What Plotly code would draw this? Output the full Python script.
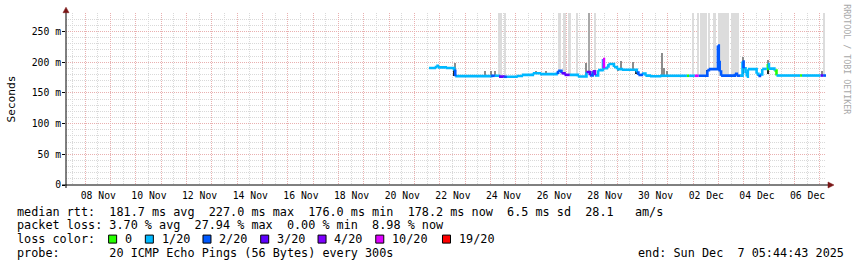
import pandas as pd
import plotly.graph_objects as go

# ---------------- data ----------------
# median RTT (ms) as a step series, with number of lost pings (of 20)
med_time = [
    "2025-11-21 13:40", "2025-11-21 19:00", "2025-11-21 20:30", "2025-11-21 22:00",
    "2025-11-22 05:30", "2025-11-22 13:30", "2025-11-22 14:30", "2025-11-24 00:30",
    "2025-11-24 04:00", "2025-11-24 08:00", "2025-11-24 12:00", "2025-11-24 15:30",
    "2025-11-25 00:30", "2025-11-25 05:30", "2025-11-25 16:00", "2025-11-25 22:45",
    "2025-11-26 14:30", "2025-11-26 16:00", "2025-11-26 19:10", "2025-11-26 22:00",
    "2025-11-27 03:00", "2025-11-27 10:40", "2025-11-27 18:50", "2025-11-27 22:00",
    "2025-11-28 00:40", "2025-11-28 02:50", "2025-11-28 05:50", "2025-11-28 09:50",
    "2025-11-28 10:30", "2025-11-28 11:20", "2025-11-28 14:10", "2025-11-28 15:40",
    "2025-11-28 20:50", "2025-11-28 23:40", "2025-11-29 04:20", "2025-11-29 18:30",
    "2025-11-29 20:00", "2025-11-29 23:20", "2025-11-30 02:40", "2025-11-30 07:00",
    "2025-11-30 16:30", "2025-12-01 18:00", "2025-12-01 20:00", "2025-12-02 01:30",
    "2025-12-02 05:00", "2025-12-02 13:20", "2025-12-02 14:50", "2025-12-02 23:20",
    "2025-12-03 00:10", "2025-12-03 01:00", "2025-12-03 02:20", "2025-12-03 15:30",
    "2025-12-03 17:20", "2025-12-03 20:20", "2025-12-03 22:40", "2025-12-03 23:40",
    "2025-12-04 01:30", "2025-12-04 02:40", "2025-12-04 03:40", "2025-12-04 12:00",
    "2025-12-04 13:40", "2025-12-04 15:10", "2025-12-04 17:20", "2025-12-04 21:40",
    "2025-12-04 22:40", "2025-12-04 23:40", "2025-12-05 04:50", "2025-12-05 06:50",
    "2025-12-06 05:10", "2025-12-06 07:00", "2025-12-07 00:40", "2025-12-07 03:00",
    "2025-12-07 05:44",
]
med_ms = [
    190.5, 192.0, 194.0, 191.5,
    190.5, 186.0, 177.2, 177.8,
    177.8, 176.5, 176.2, 176.2,
    177.5, 179.3, 182.0, 180.5,
    183.0, 186.0, 182.0, 179.3,
    179.3, 176.6, 184.0, 178.5,
    185.0, 178.5, 187.0, 188.0,
    205.0, 190.0, 193.0, 197.0,
    192.0, 188.6, 187.5, 183.0,
    179.0, 181.5, 178.0, 177.0,
    177.8, 177.8, 177.8, 177.8,
    177.8, 187.0, 188.6, 227.0,
    200.0, 184.8, 178.0, 181.0,
    178.0, 178.0, 201.0, 190.0,
    182.0, 176.5, 188.6, 181.0,
    177.5, 180.0, 189.0, 189.0,
    197.0, 189.5, 186.4, 178.2,
    178.2, 178.2, 178.2, 178.2,
    178.2,
]
med_loss = [
    1, 1, 1, 1,
    1, 2, 1, 2,
    1, 3, 2, 1,
    1, 1, 1, 1,
    2, 2, 3, 3,
    1, 1, 3, 2,
    4, 1, 1, 1,
    10, 1, 1, 1,
    1, 1, 1, 2,
    2, 1, 1, 1,
    1, 0, 1, 10,
    2, 2, 2, 2,
    2, 2, 2, 2,
    2, 1, 2, 1,
    1, 1, 1, 1,
    2, 1, 1, 0,
    1, 1, 0, 1,
    0, 1, 3, 2,
    2,
]

# full-height smoke (outer ping percentiles beyond the top of the graph)
band_start = [
    "2025-11-24 06:55", "2025-11-24 13:10", "2025-11-26 15:40", "2025-11-26 20:10",
    "2025-11-27 00:55", "2025-11-27 08:30", "2025-11-27 19:55", "2025-11-28 02:50",
    "2025-12-01 23:40", "2025-12-02 04:10", "2025-12-02 06:25", "2025-12-02 14:10",
    "2025-12-02 19:35", "2025-12-02 23:40", "2025-12-03 11:50", "2025-12-07 03:10",
]
band_end = [
    "2025-11-24 10:40", "2025-11-24 14:10", "2025-11-26 18:35", "2025-11-26 23:00",
    "2025-11-27 03:50", "2025-11-27 10:40", "2025-11-27 21:50", "2025-11-28 03:50",
    "2025-12-02 00:25", "2025-12-02 05:25", "2025-12-02 12:50", "2025-12-02 15:30",
    "2025-12-02 21:10", "2025-12-03 09:50", "2025-12-03 19:25", "2025-12-07 05:05",
]
band_base_ms = [
    177, 177, 186, 181,
    179, 178, 184, 180,
    178, 178, 178, 188,
    188, 178, 178, 178,
]
band_dark = [
    False, False, False, False,
    False, False, True, False,
    False, False, False, False,
    False, False, False, False,
]

# narrow smoke spikes (grey) around the median
smoke_time = [
    "2025-11-22 14:30", "2025-11-23 18:30", "2025-11-24 00:55", "2025-11-24 04:00",
    "2025-11-25 18:55", "2025-11-26 04:25", "2025-11-27 18:55", "2025-11-29 00:35",
    "2025-11-29 04:05", "2025-11-29 14:50", "2025-11-30 18:00", "2025-11-30 20:20",
    "2025-11-30 23:05", "2025-12-03 23:05", "2025-12-04 23:20", "2025-12-07 01:40",
]
smoke_base_ms = [
    178, 177, 177, 177,
    181, 180, 178, 187,
    187.5, 187.5, 178, 178,
    178, 190, 190, 178,
]
smoke_top_ms = [
    199, 185, 185, 186,
    185, 185, 199, 190,
    202, 201, 214.7, 190,
    186, 209, 204, 185,
]

# dark smoke at sharp median changes (drawn over the median line)
dark_time = [
    "2025-11-22 13:50", "2025-11-28 10:40", "2025-11-29 18:30", "2025-12-02 13:10",
    "2025-12-03 00:10", "2025-12-03 23:00", "2025-12-04 23:00",
]
dark_base_ms = [178, 189, 180, 179, 189, 181, 181]
dark_top_ms = [191, 202, 187, 187, 222, 199, 196]
dark_hours = [1.6, 1.6, 1.6, 1.6, 2.6, 1.6, 1.6]

loss_levels = [0, 1, 2, 3, 4, 10, 19]
loss_labels = ["0", "1/20", "2/20", "3/20", "4/20", "10/20", "19/20"]
loss_colors = ["#26ff00", "#00b8ff", "#0059ff", "#5e00ff", "#7e00ff", "#dd00ff", "#ff0000"]

y_tick_vals = [0, 0.05, 0.10, 0.15, 0.20, 0.25]
y_tick_text = ["0", "50 m", "100 m", "150 m", "200 m", "250 m"]
y_max = 0.28

x_start = "2025-11-07 05:44:43"
x_end = "2025-12-07 05:44:43"

stats_lines = [
    "median rtt:  181.7 ms avg  227.0 ms max  176.0 ms min  178.2 ms now  6.5 ms sd  28.1   am/s",
    "packet loss: 3.70 % avg  27.94 % max  0.00 % min  8.98 % now",
]
probe_text = "probe:       20 ICMP Echo Pings (56 Bytes) every 300s"
end_text = "end: Sun Dec  7 05:44:43 2025"

# ---------------- geometry (pixels) ----------------
W, H = 857, 267
PL, PR, PT, PB = 66.4, 826.0, 13.3, 185.0
PW, PH = PR - PL, PB - PT

def px(xp):
    return (xp - PL) / PW

def py(yp):
    return (PB - yp) / PH

MONO = "DejaVu Sans Mono"
NB = "\u00a0"

def nb(s):
    return s.replace(" ", NB)

def bucket(n):
    lv = 0
    for l in loss_levels:
        if n >= l:
            lv = l
    return lv

fig = go.Figure()

# full-height bands
bs = pd.to_datetime(band_start)
be = pd.to_datetime(band_end)
widths = [(e - s).total_seconds() * 1000 for s, e in zip(bs, be)]
for dark in (False, True):
    idx = [i for i in range(len(band_start)) if band_dark[i] == dark]
    fig.add_trace(go.Bar(
        x=[band_start[i] for i in idx],
        y=[y_max - band_base_ms[i] / 1000 for i in idx],
        base=[band_base_ms[i] / 1000 for i in idx],
        width=[widths[i] for i in idx],
        offset=0,
        marker=dict(color="#a9a9a9" if dark else "#dcdcdc", line=dict(width=0)),
        hoverinfo="skip",
    ))

# smoke spikes
spike_w = 1.2 * 86400000 / 25.32
fig.add_trace(go.Bar(
    x=smoke_time,
    y=[(t - b) / 1000 for t, b in zip(smoke_top_ms, smoke_base_ms)],
    base=[b / 1000 for b in smoke_base_ms],
    width=spike_w,
    marker=dict(color="#8c8c8c", line=dict(width=0)),
    hoverinfo="skip",
))

# median line coloured by loss
for lvl, col in zip(loss_levels, loss_colors):
    xs, ys = [], []
    for i in range(len(med_time) - 1):
        if bucket(med_loss[i]) == lvl:
            v0 = med_ms[i] / 1000
            v1 = med_ms[i + 1] / 1000
            xs += [med_time[i], med_time[i + 1], med_time[i + 1], None]
            ys += [v0, v0, v1, None]
    if xs:
        fig.add_trace(go.Scatter(
            x=xs, y=ys, mode="lines",
            line=dict(color=col, width=2.6),
            connectgaps=False, hoverinfo="skip",
        ))

fig.add_trace(go.Bar(
    x=dark_time,
    y=[(t - b) / 1000 for t, b in zip(dark_top_ms, dark_base_ms)],
    base=[b / 1000 for b in dark_base_ms],
    width=[h * 3600000 for h in dark_hours],
    marker=dict(color="#262626", line=dict(width=0)),
    hoverinfo="skip",
))

# ---------------- axes ----------------
midnights = pd.date_range("2025-11-08", "2025-12-07", freq="D")
label_days = set(pd.date_range("2025-11-08", "2025-12-06", freq="2D"))
tick_text = [d.strftime("%d %b") if d in label_days else "" for d in midnights]

GRID_RED = "#e9b0b0"
GRID_GRAY = "#d9d9d9"

fig.update_xaxes(
    type="date", range=[x_start, x_end],
    tickmode="array", tickvals=list(midnights), ticktext=tick_text,
    ticklabelshift=13, ticklabelstandoff=3, tickangle=0,
    showgrid=True, gridcolor=GRID_RED, griddash="1px,1px", gridwidth=1,
    minor=dict(dtick=43200000, tick0="2025-11-07 00:00", showgrid=True,
               gridcolor=GRID_GRAY, griddash="1px,1px", gridwidth=1),
    ticks="", showline=False, zeroline=False,
    tickfont=dict(family=MONO, size=9.75, color="#000000"),
    fixedrange=True,
)
fig.update_yaxes(
    range=[0, y_max],
    tickmode="array", tickvals=y_tick_vals, ticktext=y_tick_text,
    ticklabelstandoff=-1,
    showgrid=True, gridcolor=GRID_RED, griddash="1px,1px", gridwidth=1,
    minor=dict(dtick=0.01, tick0=0, showgrid=True,
               gridcolor=GRID_GRAY, griddash="1px,1px", gridwidth=1),
    ticks="outside", ticklen=3, tickcolor="#000000", tickwidth=1,
    showline=False, zeroline=False,
    tickfont=dict(family=MONO, size=9.75, color="#000000"),
    fixedrange=True,
)

# ---------------- decorations ----------------
shapes = []
AX = "#000000"
ARROW = "#7a1616"
# y axis line + arrow
shapes.append(dict(type="line", xref="paper", yref="paper",
                   x0=px(PL), x1=px(PL), y0=py(188), y1=py(11),
                   line=dict(color=AX, width=1), layer="above"))
shapes.append(dict(type="path", xref="paper", yref="paper",
                   path=f"M {px(PL)} {py(7.5)} L {px(PL-3)} {py(13)} L {px(PL+3)} {py(13)} Z",
                   fillcolor=ARROW, line=dict(color=ARROW, width=0.5), layer="above"))
# x axis line + arrow
shapes.append(dict(type="line", xref="paper", yref="paper",
                   x0=px(62.5), x1=px(829), y0=py(PB), y1=py(PB),
                   line=dict(color=AX, width=1), layer="above"))
shapes.append(dict(type="path", xref="paper", yref="paper",
                   path=f"M {px(834)} {py(PB)} L {px(828)} {py(PB-3)} L {px(828)} {py(PB+3)} Z",
                   fillcolor=ARROW, line=dict(color=ARROW, width=0.5), layer="above"))

annotations = []
FS = 11.8

def add_text(text, xp, yp, xanchor="left", size=FS, color="#000000", angle=0):
    annotations.append(dict(
        text=nb(text), xref="paper", yref="paper", x=px(xp), y=py(yp),
        xanchor=xanchor, yanchor="middle", showarrow=False, textangle=angle,
        font=dict(family=MONO, size=size, color=color), borderpad=0,
    ))

add_text("Seconds", 11.5, 99.5, xanchor="center", size=11.1, angle=-90)
add_text(stats_lines[0], 16, 211.5)
add_text(stats_lines[1], 16, 225.3)
add_text("loss color:", 16, 239.3)
add_text(probe_text, 16, 253.3)
add_text(end_text, 845.0, 253.3, xanchor="right")
add_text("RRDTOOL / TOBI OETIKER", 847.5, 59, xanchor="center", size=8.3,
         color="#a8a8a8", angle=90)

sw_x = [109, 145.7, 203.3, 261, 318.3, 376, 442.7]
for xp, lab, col in zip(sw_x, loss_labels, loss_colors):
    shapes.append(dict(type="rect", xref="paper", yref="paper",
                       x0=px(xp), x1=px(xp + 8), y0=py(243), y1=py(235),
                       fillcolor=col, line=dict(color="#000000", width=1)))
    add_text(lab, xp + 15.3, 239.3)

fig.update_layout(
    width=W, height=H,
    margin=dict(l=PL, r=W - PR, t=PT, b=H - PB, pad=0),
    paper_bgcolor="#ffffff", plot_bgcolor="#ffffff",
    showlegend=False, barmode="overlay", bargap=0,
    shapes=shapes, annotations=annotations,
    font=dict(family=MONO),
)

fig.write_html("out.html")
